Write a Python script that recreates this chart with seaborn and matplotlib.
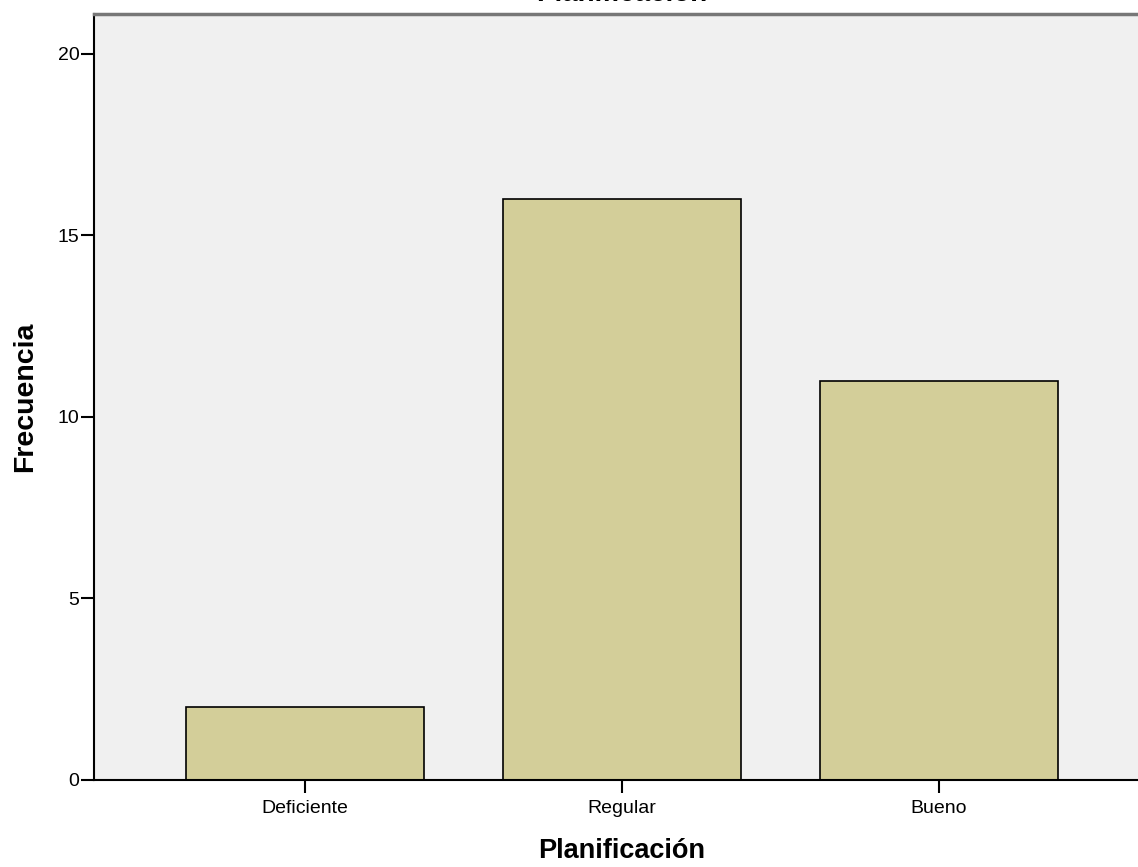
import matplotlib
matplotlib.use("Agg")
import matplotlib.pyplot as plt
import seaborn as sns
import pandas as pd

categorias = ["Deficiente", "Regular", "Bueno"]
frecuencias = [2, 16, 11]

df = pd.DataFrame({"Planificación": categorias, "Frecuencia": frecuencias})

sns.set_style("white")
plt.rcParams['font.family'] = ['Liberation Sans', 'DejaVu Sans']
plt.rcParams['text.color'] = 'black'
plt.rcParams['axes.labelcolor'] = 'black'
plt.rcParams['xtick.color'] = 'black'
plt.rcParams['ytick.color'] = 'black'

fig = plt.figure(figsize=(11.38, 8.67), dpi=100)
ax = fig.add_axes([94 / 1138, 87 / 867, 1056 / 1138, 766 / 867])
ax.set_facecolor("#f0f0f0")

sns.barplot(data=df, x="Planificación", y="Frecuencia", color="#d3ce99",
            width=0.75, edgecolor="black", linewidth=1.2, saturation=1, ax=ax)

ax.set_xlim(-0.667, 2.667)
ax.set_ylim(0, 21.1)
ax.set_yticks([0, 5, 10, 15, 20])

ax.set_xlabel("Planificación", fontsize=19.5, fontweight="bold", labelpad=15)
ax.set_ylabel("Frecuencia", fontsize=20.5, fontweight="bold", labelpad=14)
ax.tick_params(axis="x", direction="out", length=9.5, width=1.5, labelsize=14, pad=5, bottom=True)
ax.tick_params(axis="y", direction="out", length=9.5, width=1.5, labelsize=14, pad=1, left=True)

for s in ["left", "bottom"]:
    ax.spines[s].set_color("black")
    ax.spines[s].set_linewidth(1.5)
ax.spines["top"].set_color("#777777")
ax.spines["top"].set_linewidth(2.5)
ax.spines["right"].set_visible(False)

fig.text(622 / 1138, 1 - 1 / 867, "Planificación", ha="center", va="baseline",
         fontsize=20, fontweight="bold")

plt.savefig("out.png", dpi=100)
